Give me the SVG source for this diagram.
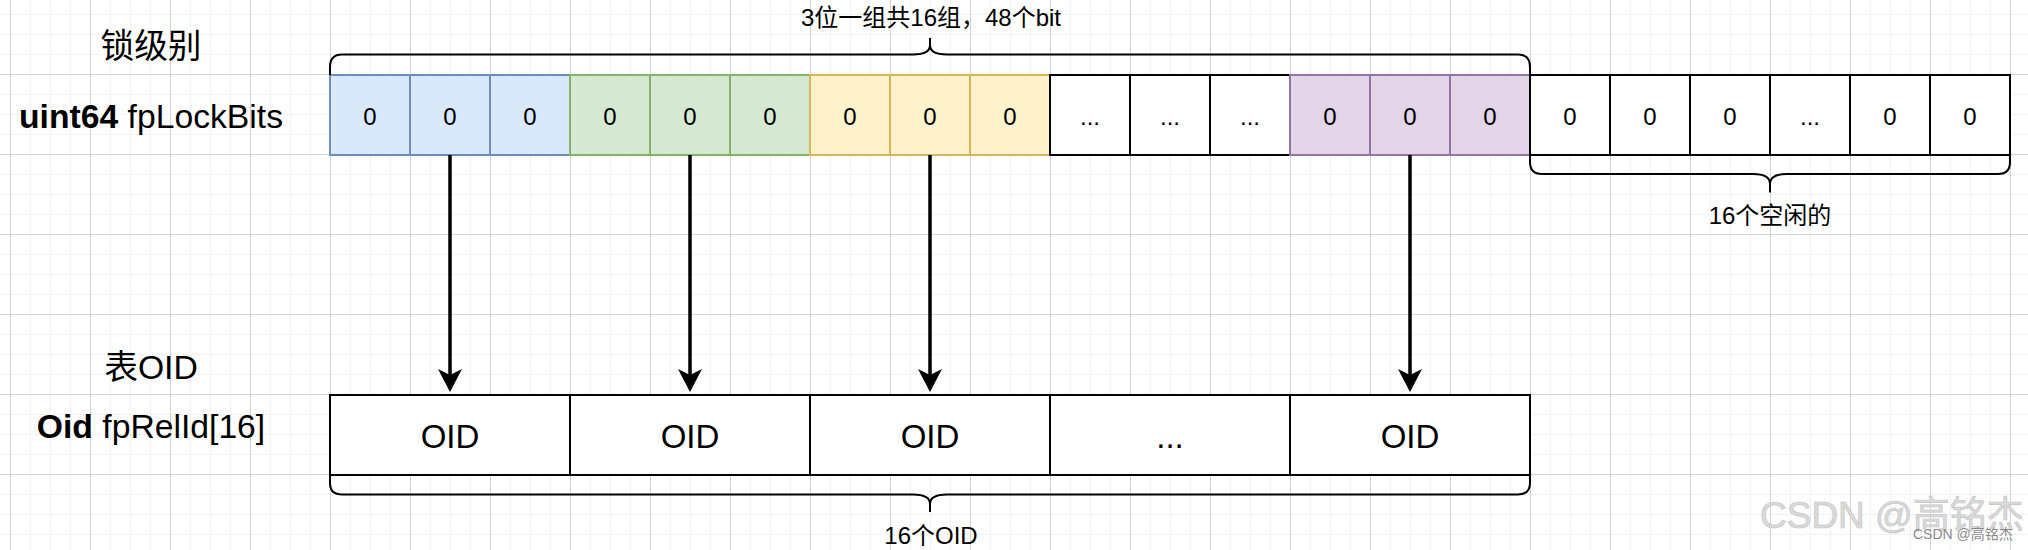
<svg xmlns="http://www.w3.org/2000/svg" width="2028" height="550" viewBox="0 0 2028 550">
<defs>
<pattern id="gMinor" x="10" y="14" width="20" height="20" patternUnits="userSpaceOnUse"><path d="M0.5 0V20M0 0.5H20" stroke="#f1f1f1" stroke-width="1" fill="none"/></pattern>
<pattern id="gMajor" x="10" y="74" width="80" height="80" patternUnits="userSpaceOnUse"><path d="M0.5 0V80M0 0.5H80" stroke="#d3d3d3" stroke-width="1" fill="none"/></pattern>
<marker id="arrow" markerUnits="userSpaceOnUse" viewBox="0 0 24 24" markerWidth="24" markerHeight="24" refX="13" refY="12" orient="auto"><path d="M23,12 L0,0 L6,12 L0,24 Z" fill="#000"/></marker>
</defs>
<style>
text{font-family:"Liberation Sans",Arial,Helvetica,"Noto Sans CJK SC",sans-serif;fill:#000;text-anchor:middle}
.cell rect{stroke-width:2}
.cell text{font-size:24px}
.blue rect{fill:#dae8fc;stroke:#6c8ebf}
.green rect{fill:#d5e8d4;stroke:#82b366}
.yellow rect{fill:#fff2cc;stroke:#d6b656}
.purple rect{fill:#e1d5e7;stroke:#9673a6}
.plain rect{fill:#fff;stroke:#000}
.oid rect{fill:#fff;stroke:#000;stroke-width:2}
.oid text{font-size:33px}
.brace{fill:none;stroke:#000;stroke-width:2}
.lbl{font-size:33.7px}
.note{font-size:24px}
.conn line{stroke:#000;stroke-width:3.5;marker-end:url(#arrow)}
</style>
<rect width="2028" height="550" fill="#fff"/>
<rect width="2028" height="550" fill="url(#gMinor)"/>
<rect width="2028" height="550" fill="url(#gMajor)"/>

<g id="label-lock-level"><text class="lbl" x="151" y="57.5">锁级别</text></g>
<g id="label-fpLockBits"><text class="lbl" x="151" y="128"><tspan font-weight="bold">uint64</tspan> fpLockBits</text></g>
<g id="label-table-oid"><text class="lbl" x="151" y="379">表OID</text></g>
<g id="label-fpRelId"><text class="lbl" x="151" y="438"><tspan font-weight="bold">Oid</tspan> fpRelId[16]</text></g>

<g id="bits">
<g id="bit-1" class="cell blue"><rect x="330" y="75" width="80" height="80"/><text x="370" y="124.5">0</text></g>
<g id="bit-2" class="cell blue"><rect x="410" y="75" width="80" height="80"/><text x="450" y="124.5">0</text></g>
<g id="bit-3" class="cell blue"><rect x="490" y="75" width="80" height="80"/><text x="530" y="124.5">0</text></g>
<g id="bit-4" class="cell green"><rect x="570" y="75" width="80" height="80"/><text x="610" y="124.5">0</text></g>
<g id="bit-5" class="cell green"><rect x="650" y="75" width="80" height="80"/><text x="690" y="124.5">0</text></g>
<g id="bit-6" class="cell green"><rect x="730" y="75" width="80" height="80"/><text x="770" y="124.5">0</text></g>
<g id="bit-7" class="cell yellow"><rect x="810" y="75" width="80" height="80"/><text x="850" y="124.5">0</text></g>
<g id="bit-8" class="cell yellow"><rect x="890" y="75" width="80" height="80"/><text x="930" y="124.5">0</text></g>
<g id="bit-9" class="cell yellow"><rect x="970" y="75" width="80" height="80"/><text x="1010" y="124.5">0</text></g>
<g id="bit-10" class="cell plain"><rect x="1050" y="75" width="80" height="80"/><text x="1090" y="124.5">...</text></g>
<g id="bit-11" class="cell plain"><rect x="1130" y="75" width="80" height="80"/><text x="1170" y="124.5">...</text></g>
<g id="bit-12" class="cell plain"><rect x="1210" y="75" width="80" height="80"/><text x="1250" y="124.5">...</text></g>
<g id="bit-13" class="cell purple"><rect x="1290" y="75" width="80" height="80"/><text x="1330" y="124.5">0</text></g>
<g id="bit-14" class="cell purple"><rect x="1370" y="75" width="80" height="80"/><text x="1410" y="124.5">0</text></g>
<g id="bit-15" class="cell purple"><rect x="1450" y="75" width="80" height="80"/><text x="1490" y="124.5">0</text></g>
<g id="bit-16" class="cell plain"><rect x="1530" y="75" width="80" height="80"/><text x="1570" y="124.5">0</text></g>
<g id="bit-17" class="cell plain"><rect x="1610" y="75" width="80" height="80"/><text x="1650" y="124.5">0</text></g>
<g id="bit-18" class="cell plain"><rect x="1690" y="75" width="80" height="80"/><text x="1730" y="124.5">0</text></g>
<g id="bit-19" class="cell plain"><rect x="1770" y="75" width="80" height="80"/><text x="1810" y="124.5">...</text></g>
<g id="bit-20" class="cell plain"><rect x="1850" y="75" width="80" height="80"/><text x="1890" y="124.5">0</text></g>
<g id="bit-21" class="cell plain"><rect x="1930" y="75" width="80" height="80"/><text x="1970" y="124.5">0</text></g>
</g>

<g id="oids">
<g id="oid-1" class="oid"><rect x="330" y="395" width="240" height="80"/><text x="450" y="447.5">OID</text></g>
<g id="oid-2" class="oid"><rect x="570" y="395" width="240" height="80"/><text x="690" y="447.5">OID</text></g>
<g id="oid-3" class="oid"><rect x="810" y="395" width="240" height="80"/><text x="930" y="447.5">OID</text></g>
<g id="oid-4" class="oid"><rect x="1050" y="395" width="240" height="80"/><text x="1170" y="447.5">...</text></g>
<g id="oid-5" class="oid"><rect x="1290" y="395" width="240" height="80"/><text x="1410" y="447.5">OID</text></g>
</g>

<g id="brace-top">
<path class="brace" d="M330,75 L330,67 Q330,54.5 342,54.5 L913,54.5 Q930,54.5 930,45 L930,38 M930,45 Q930,54.5 947,54.5 L1518,54.5 Q1530,54.5 1530,67 L1530,75"/>
<text class="note" x="931" y="26">3位一组共16组，48个bit</text>
</g>
<g id="brace-free">
<path class="brace" d="M1530,155 L1530,162 Q1530,174 1542,174 L1753,174 Q1770,174 1770,184 L1770,192.5 M1770,184 Q1770,174 1787,174 L1998,174 Q2010,174 2010,162 L2010,155"/>
<text class="note" x="1770" y="224">16个空闲的</text>
</g>
<g id="brace-oid">
<path class="brace" d="M330,475 L330,483 Q330,494.5 342,494.5 L913,494.5 Q930,494.5 930,504 L930,512 M930,504 Q930,494.5 947,494.5 L1518,494.5 Q1530,494.5 1530,483 L1530,475"/>
<text class="note" x="931" y="544">16个OID</text>
</g>

<g id="connectors" class="conn">
<line x1="450" y1="155" x2="450" y2="382"/>
<line x1="690" y1="155" x2="690" y2="382"/>
<line x1="930" y1="155" x2="930" y2="382"/>
<line x1="1410" y1="155" x2="1410" y2="382"/>
</g>

<g id="watermark">
<text x="1760" y="528" style="font-size:37px;text-anchor:start;fill:#dadada;stroke:#c6c6c6;stroke-width:0.7">CSDN @高铭杰</text>
<text x="1913" y="538.5" style="font-size:14px;text-anchor:start;fill:#8a8a8a">CSDN @高铭杰</text>
</g>
</svg>
